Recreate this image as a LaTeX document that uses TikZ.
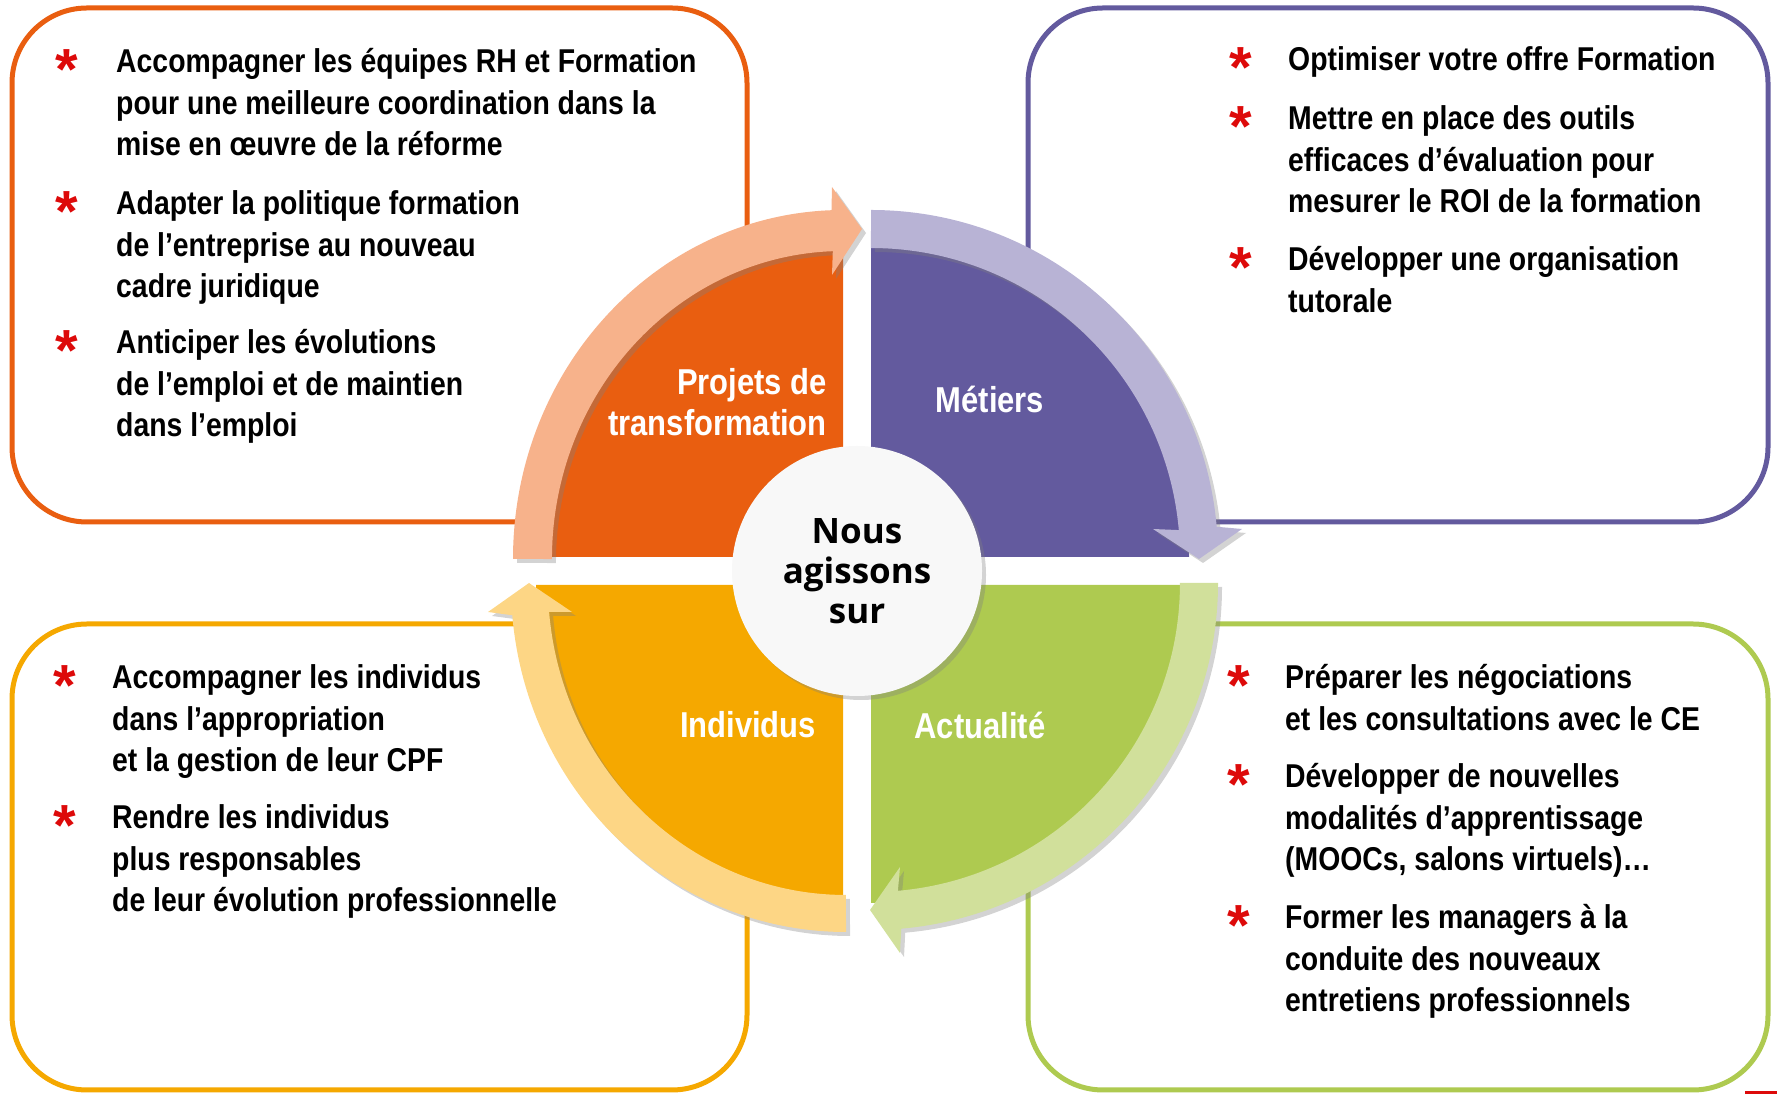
\documentclass[tikz,border=0pt]{standalone}
\usepackage{fontspec}
\setmainfont{Liberation Sans}
\newfontfamily\narrowfont{Liberation Sans}[FakeStretch=0.86]
\newfontfamily\roundfont{Open Sans}
\usetikzlibrary{shadows}

\definecolor{orangeFonce}{HTML}{E95E10}
\definecolor{orangeClair}{HTML}{F7B28B}
\definecolor{violetFonce}{HTML}{635A9E}
\definecolor{violetClair}{HTML}{B8B3D5}
\definecolor{vertFonce}{HTML}{AECA50}
\definecolor{vertClair}{HTML}{D1E09B}
\definecolor{jauneFonce}{HTML}{F5A800}
\definecolor{jauneClair}{HTML}{FDD685}
\definecolor{rouge}{HTML}{DD0A0A}
\definecolor{blanc}{HTML}{F8F8F8}

\tikzset{
	cadre/.style={line width=5pt, rounded corners=75pt},
	puce/.style={text=rouge, font=\bfseries\fontsize{58}{58}\selectfont, inner sep=0pt, anchor=north},
	liste/.style={font=\narrowfont\bfseries\fontsize{33}{41.5}\selectfont, align=left, inner sep=0pt, anchor=base west},
	secteur/.style={font=\narrowfont\bfseries\fontsize{36}{41}\selectfont, text=white, inner sep=0pt},
	ombre/.style={drop shadow={opacity=0.35, shadow xshift=4pt, shadow yshift=-4pt}}
}

\begin{document}
\begin{tikzpicture}[x=1pt, y=1pt]
		\useasboundingbox (0,0) rectangle (1777,1094);

		\draw [cadre, orangeFonce]	(12,572) rectangle (747,1086);
		\draw [cadre, violetFonce]	(1028,572) rectangle (1768,1086);
		\draw [cadre, jauneFonce]	(12,4) rectangle (747,470);
		\draw [cadre, vertFonce]	(1028,4) rectangle (1768,470);
		\draw [rouge, line width=3pt]	(1745,1.5) -- (1777,1.5);

		\fill [orangeFonce]	(843,537) -- (543,537) arc [start angle=180, end angle=90, x radius=300, y radius=318] -- cycle;
		\fill [violetFonce]	(871,537) -- (871,855) arc [start angle=90, end angle=0, radius=318] -- cycle;
		\fill [vertFonce]	(871,509) -- (1189,509) arc [start angle=0, end angle=-90, radius=318] -- cycle;
		\fill [jauneFonce]	(843,509) -- (843,191) arc [start angle=-90, end angle=-180, x radius=307, y radius=318] -- cycle;

		\fill [orangeClair, ombre]	(513,535) arc [start angle=180, end angle=92, x radius=330, y radius=349]
							-- (832,907) -- (862,865) -- (832,819)
							-- (832.8,842.8) arc [start angle=92, end angle=180, x radius=291, y radius=308] -- cycle;
		\fill [violetClair, ombre]	(871,884) arc [start angle=90, end angle=5, radius=347]
							-- (1242,565) -- (1199,535) -- (1153,565)
							-- (1178.8,563.9) arc [start angle=5, end angle=90, radius=309] -- cycle;
		\fill [vertClair, ombre]	(1218,511) arc [start angle=0, end angle=-85, radius=347]
							-- (900,141) -- (870,184) -- (900,227)
							-- (897.9,203.2) arc [start angle=-85, end angle=0, radius=309] -- cycle;
		\fill [jauneClair, ombre]	(846,162) arc [start angle=-90, end angle=-175, x radius=335, y radius=347]
							-- (488,482) -- (529,511) -- (572,482)
							-- (549.1,482) arc [start angle=-175, end angle=-90, x radius=298, y radius=310] -- cycle;

		\node [circle, fill=blanc, minimum size=250pt, inner sep=0pt, align=center, ombre,
			font=\roundfont\bfseries\fontsize{35}{40}\selectfont] (nous) at (857,523) {Nous\\agissons\\sur};

		\node [secteur, align=right, anchor=east] (projets) at (827,692) {Projets de\\transformation};
		\node [secteur] (metiers) at (990,695) {Métiers};
		\node [secteur] (individus) at (748,369) {Individus};
		\node [secteur] (actualite) at (980,369) {Actualité};

		\node [puce] (p-projet1) at (67,1045) {*};
		\node [liste] (projet1) at (116,938) {Accompagner les équipes RH et Formation\\pour une meilleure coordination dans la\\mise en œuvre de la réforme};
		\node [puce] (p-projet2) at (67,903) {*};
		\node [liste] (projet2) at (116,796) {Adapter la politique formation\\de l’entreprise au nouveau\\cadre juridique};
		\node [puce] (p-projet3) at (67,764) {*};
		\node [liste] (projet3) at (116,657) {Anticiper les évolutions\\de l’emploi et de maintien\\dans l’emploi};

		\node [puce] (p-metier1) at (1241,1047) {*};
		\node [liste] (metier1) at (1288,1023) {Optimiser votre offre Formation};
		\node [puce] (p-metier2) at (1241,988) {*};
		\node [liste] (metier2) at (1288,881) {Mettre en place des outils\\efficaces d’évaluation pour\\mesurer le ROI de la formation};
		\node [puce] (p-metier3) at (1241,847) {*};
		\node [liste] (metier3) at (1288,781.5) {Développer une organisation\\tutorale};

		\node [puce] (p-indiv1) at (65,429) {*};
		\node [liste] (indiv1) at (112,322) {Accompagner les individus\\dans l’appropriation\\et la gestion de leur CPF};
		\node [puce] (p-indiv2) at (65,289) {*};
		\node [liste] (indiv2) at (112,182) {Rendre les individus\\plus responsables\\de leur évolution professionnelle};

		\node [puce] (p-actu1) at (1239,429) {*};
		\node [liste] (actu1) at (1285,363.5) {Préparer les négociations\\et les consultations avec le CE};
		\node [puce] (p-actu2) at (1239,330) {*};
		\node [liste] (actu2) at (1285,223) {Développer de nouvelles\\modalités d’apprentissage\\(MOOCs, salons virtuels)…};
		\node [puce] (p-actu3) at (1239,189) {*};
		\node [liste] (actu3) at (1285,82) {Former les managers à la\\conduite des nouveaux\\entretiens professionnels};
	\end{tikzpicture}
\end{document}
